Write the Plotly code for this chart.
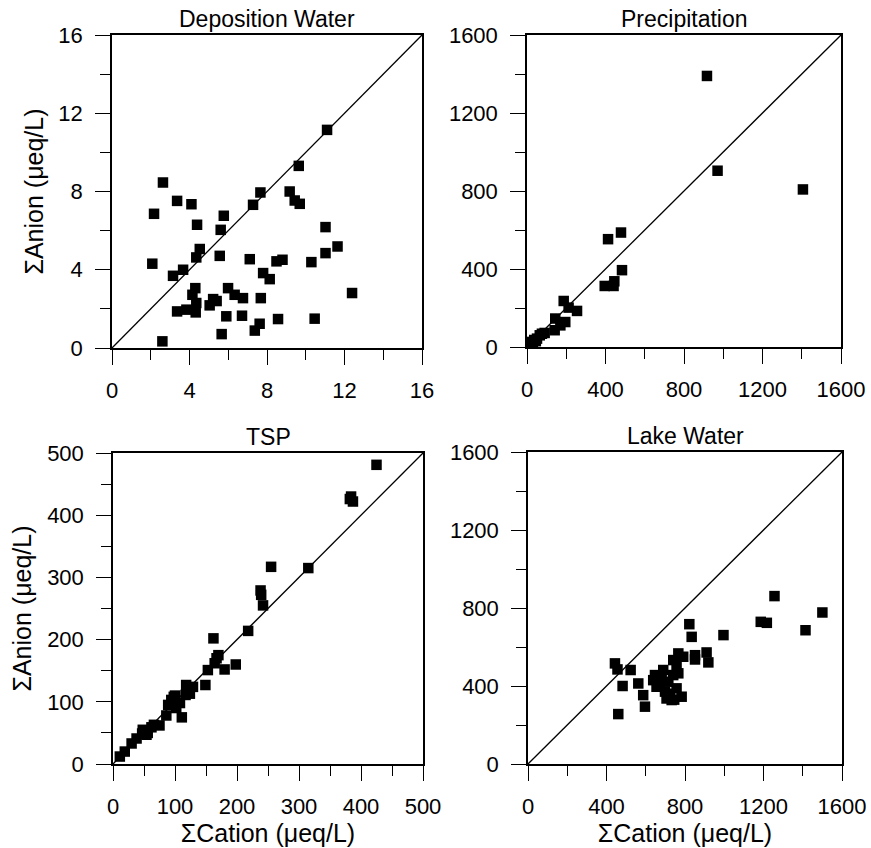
import plotly.graph_objects as go

# ---------------- data ----------------
dep_cation = [11.1, 9.64, 2.63, 3.36, 4.10, 7.66, 7.28, 9.17, 9.43, 9.69, 2.17, 5.77, 4.39, 5.61,
              11.02, 4.53, 4.35, 11.64, 11.02, 2.08, 5.56, 7.11, 8.49, 8.80, 10.29, 3.67, 3.15,
              7.80, 8.14, 12.39, 4.30, 4.15, 5.99, 6.33, 6.76, 7.68, 5.22, 5.04, 4.35, 3.36, 3.84,
              4.32, 5.90, 6.71, 8.57, 10.46, 7.62, 7.37, 5.66, 2.60, 5.40]
dep_anion = [11.15, 9.31, 8.46, 7.52, 7.35, 7.95, 7.32, 8.0, 7.54, 7.37, 6.86, 6.76, 6.30, 6.04,
             6.18, 5.06, 4.63, 5.19, 4.85, 4.31, 4.71, 4.54, 4.43, 4.51, 4.39, 4.0, 3.69,
             3.83, 3.52, 2.81, 3.06, 2.72, 3.06, 2.72, 2.55, 2.55, 2.50, 2.18, 2.30, 1.87, 1.96,
             1.82, 1.62, 1.65, 1.48, 1.50, 1.24, 0.89, 0.71, 0.34, 2.40]

pre_cation = [917, 971, 1406, 413, 479, 484, 396, 441, 445, 187, 255, 212, 195, 144, 141, 170,
              76, 51, 25, 14, 65, 37, 90, 45, 30]
pre_anion = [1390, 904, 808, 553, 587, 394, 313, 313, 337, 236, 185, 202, 128, 146, 86, 111,
             68, 43, 26, 14, 60, 36, 72, 30, 20]

tsp_cation = [425, 384, 387, 382, 255, 315, 238, 239, 242, 218, 162, 198, 167, 164, 180, 153,
              149, 118, 129, 117, 98, 108, 89, 102, 111, 86, 75, 62, 48, 54, 38, 30, 19, 11,
              47, 66, 94, 124, 170, 100, 56]
tsp_anion = [481, 430, 422, 426, 317, 315, 279, 272, 255, 214, 202, 160, 170, 162, 152, 151,
             127, 127, 124, 111, 108, 98, 95, 90, 75, 78, 62, 59, 55, 47, 41, 33, 20, 12,
             49, 63, 103, 113, 175, 110, 50]

lake_cation = [1256, 1500, 1414, 1186, 1217, 996, 822, 834, 910, 919, 851, 851, 443, 456, 523,
               482, 562, 587, 596, 460, 766, 740, 757, 647, 681, 715, 655, 698, 732, 783, 757,
               706, 638, 766, 740, 689, 791, 723, 670, 745]
lake_anion = [861, 777, 686, 729, 724, 661, 717, 652, 572, 521, 536, 558, 516, 485, 482,
              400, 413, 353, 294, 256, 567, 533, 499, 456, 439, 422, 396, 371, 328, 345, 388,
              336, 430, 465, 456, 482, 550, 360, 420, 330]

panels = [
    dict(name="Deposition Water", x=dep_cation, y=dep_anion, vmax=16, dtick=4, minor=2),
    dict(name="Precipitation", x=pre_cation, y=pre_anion, vmax=1600, dtick=400, minor=200),
    dict(name="TSP", x=tsp_cation, y=tsp_anion, vmax=500, dtick=100, minor=50),
    dict(name="Lake Water", x=lake_cation, y=lake_anion, vmax=1600, dtick=400, minor=200),
]

W, H = 871, 848
# pixel boxes (left, right, top, bottom)
boxes = [(112, 422, 35, 348), (527, 841, 35, 347), (113, 423, 453, 764), (528, 842, 452, 764)]

FONT = "Liberation Sans, Arial, sans-serif"
fig = go.Figure()

for i, (p, b) in enumerate(zip(panels, boxes)):
    k = "" if i == 0 else str(i + 1)
    xa, ya = "x" + k, "y" + k
    fig.add_trace(go.Scatter(x=[0, p["vmax"]], y=[0, p["vmax"]], mode="lines",
                             line=dict(color="black", width=1.3), xaxis=xa, yaxis=ya,
                             showlegend=False, hoverinfo="skip"))
    fig.add_trace(go.Scatter(x=p["x"], y=p["y"], mode="markers",
                             marker=dict(symbol="square", size=10.5, color="black",
                                         line=dict(width=0)),
                             xaxis=xa, yaxis=ya, showlegend=False))
    l, r, t, bt = b
    common = dict(showline=True, mirror=True, linecolor="black", linewidth=1.5,
                  ticks="outside", ticklen=15, tickwidth=1.3, tickcolor="black",
                  showgrid=False, zeroline=False, automargin=False,
                  tickfont=dict(family=FONT, size=22, color="black"),
                  range=[0, p["vmax"]], dtick=p["dtick"], tick0=0,
                  minor=dict(dtick=p["minor"], tick0=0, ticks="outside", ticklen=10,
                             tickwidth=1.3, tickcolor="black", showgrid=False))
    xax = dict(common, domain=[l / W, r / W], anchor=ya, ticklabelstandoff=7)
    yax = dict(common, domain=[1 - bt / H, 1 - t / H], anchor=xa, ticklabelstandoff=8)
    if i >= 2:
        xax["title"] = dict(text="ΣCation (μeq/L)", font=dict(family=FONT, size=25, color="black"),
                            standoff=2)
    if i in (0, 2):
        yax["title"] = dict(text="ΣAnion (μeq/L)", font=dict(family=FONT, size=25, color="black"),
                            standoff=8)
    fig.layout["xaxis" + k] = xax
    fig.layout["yaxis" + k] = yax
    fig.add_annotation(text=p["name"], x=(l + r) / 2 / W, y=1 - (t - 16) / H,
                       xref="paper", yref="paper", xanchor="center", yanchor="middle",
                       showarrow=False, font=dict(family=FONT, size=23, color="black"))

fig.update_layout(width=W, height=H, margin=dict(l=0, r=0, t=0, b=0, autoexpand=False),
                  paper_bgcolor="white", plot_bgcolor="white")
fig.write_html("out.html")
